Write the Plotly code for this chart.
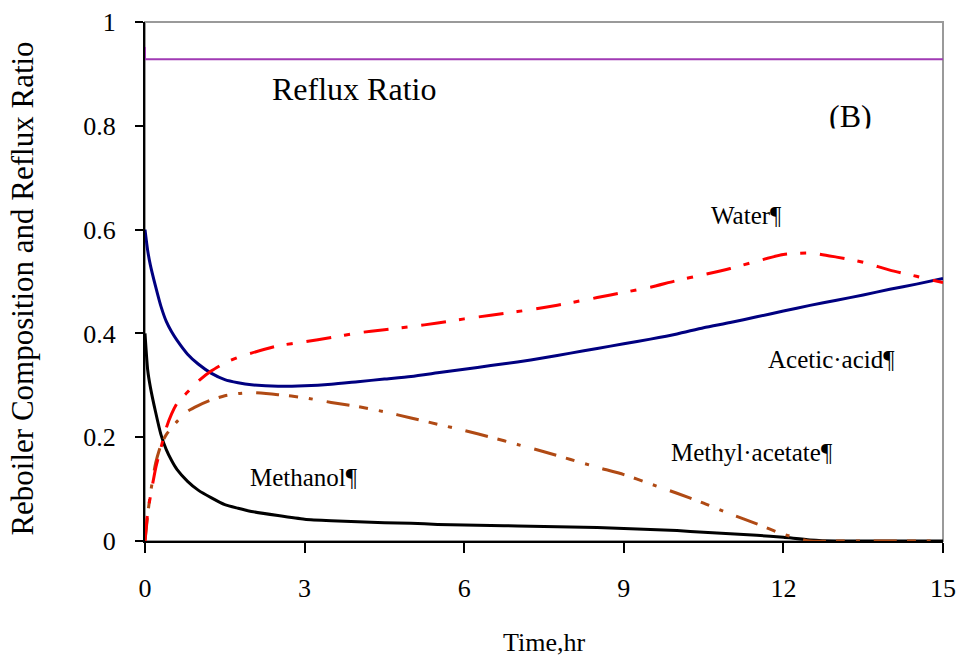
import plotly.graph_objects as go

# Batch reactive distillation: reboiler composition and reflux ratio vs time
time_hr = [0, 0.05, 0.1, 0.2, 0.3, 0.4, 0.5, 0.6, 0.8, 1.0, 1.25, 1.5, 1.75, 2.0,
           2.5, 3.0, 3.5, 4.0, 4.5, 5.0, 5.5, 6.0, 6.5, 7.0, 7.5, 8.0, 8.5, 9.0,
           9.5, 10.0, 10.5, 11.0, 11.5, 12.0, 12.5, 13.0, 13.5, 14.0, 14.5, 15.0]

acetic_acid = [0.600, 0.560, 0.532, 0.490, 0.452, 0.423, 0.403, 0.387, 0.360, 0.341,
               0.323, 0.311, 0.305, 0.301, 0.298, 0.299, 0.302, 0.307, 0.312, 0.317,
               0.324, 0.331, 0.338, 0.345, 0.353, 0.362, 0.371, 0.380, 0.389, 0.399,
               0.411, 0.421, 0.432, 0.443, 0.454, 0.464, 0.474, 0.485, 0.495, 0.506]

methanol = [0.400, 0.330, 0.297, 0.248, 0.205, 0.176, 0.155, 0.138, 0.115, 0.098,
            0.083, 0.070, 0.063, 0.057, 0.049, 0.042, 0.039, 0.037, 0.035, 0.034,
            0.032, 0.031, 0.030, 0.029, 0.028, 0.027, 0.026, 0.024, 0.022, 0.020,
            0.017, 0.014, 0.011, 0.007, 0.002, 0.0, 0.0, 0.0, 0.0, 0.0]

water = [0.000, 0.054, 0.085, 0.140, 0.180, 0.218, 0.245, 0.265, 0.287, 0.308,
         0.328, 0.343, 0.354, 0.362, 0.376, 0.384, 0.392, 0.401, 0.407, 0.413,
         0.420, 0.428, 0.435, 0.442, 0.450, 0.459, 0.469, 0.479, 0.489, 0.502,
         0.513, 0.525, 0.539, 0.552, 0.555, 0.547, 0.537, 0.522, 0.510, 0.498]

methyl_acetate = [0.000, 0.050, 0.090, 0.150, 0.185, 0.205, 0.218, 0.230, 0.250, 0.261,
                  0.272, 0.280, 0.284, 0.286, 0.282, 0.276, 0.267, 0.259, 0.249, 0.237,
                  0.225, 0.213, 0.200, 0.186, 0.172, 0.157, 0.142, 0.128, 0.110, 0.092,
                  0.073, 0.052, 0.033, 0.013, 0.0, 0.0, 0.0, 0.0, 0.0, 0.0]

reflux_time = [0, 0, 15]
reflux_ratio = [0.952, 0.928, 0.928]

x_ticks = [0, 3, 6, 9, 12, 15]
y_ticks = [0, 0.2, 0.4, 0.6, 0.8, 1.0]
y_tick_text = ["0", "0.2", "0.4", "0.6", "0.8", "1"]

SERIF = "Liberation Serif, Times New Roman, serif"

fig = go.Figure()

fig.add_trace(go.Scatter(x=reflux_time, y=reflux_ratio, mode="lines",
                         line=dict(color="#A03AB4", width=2)))
fig.add_trace(go.Scatter(x=time_hr, y=acetic_acid, mode="lines",
                         line=dict(color="#000080", width=3, shape="spline", smoothing=0.6)))
fig.add_trace(go.Scatter(x=time_hr, y=methanol, mode="lines",
                         line=dict(color="#000000", width=3, shape="spline", smoothing=0.6)))
fig.add_trace(go.Scatter(x=time_hr, y=methyl_acetate, mode="lines",
                         line=dict(color="#B04A14", width=3, shape="spline", smoothing=0.6,
                                   dash="23px,10px,9px,11px,4px,14px")))
fig.add_trace(go.Scatter(x=time_hr, y=water, mode="lines",
                         line=dict(color="#FF0000", width=3, shape="spline", smoothing=0.6,
                                   dash="25px,13px,6px,14px")))

# gray frame on top and right; left/bottom axes are drawn in black
fig.add_shape(type="rect", xref="x domain", yref="y domain", x0=0, x1=1, y0=0, y1=1,
              line=dict(color="#9a9a9a", width=2), layer="below")

labels = [
    dict(text="Water¶", x=11.3, y=0.628),
    dict(text="Acetic·acid¶", x=12.91, y=0.349),
    dict(text="Methyl·acetate¶", x=11.41, y=0.170),
    dict(text="Methanol¶", x=2.99, y=0.123),
]
annotations = [
    dict(text=l["text"], x=l["x"], y=l["y"], xref="x", yref="y", showarrow=False,
         font=dict(family=SERIF, size=25, color="black"))
    for l in labels
]
annotations += [
    dict(text="Reflux Ratio", x=3.93, y=0.871, xref="x", yref="y", showarrow=False,
         font=dict(family=SERIF, size=32, color="black")),
    dict(text="(B)", x=13.27, y=0.8195, xref="x", yref="y", showarrow=False,
         font=dict(family=SERIF, size=32, color="black")),
    # text frame clipping the lower part of the panel tag
    dict(text=" ", x=13.27, y=0.7775, xref="x", yref="y", showarrow=False,
         width=70, height=15, bgcolor="white", font=dict(size=10)),
    dict(text="Reboiler Composition and Reflux Ratio", x=-0.154, y=0.4865,
         xref="paper", yref="paper", xanchor="center", yanchor="middle",
         showarrow=False, textangle=-90,
         font=dict(family=SERIF, size=31, color="black")),
    dict(text="Time,hr", x=0.5, y=-0.1965, xref="paper", yref="paper",
         xanchor="center", yanchor="middle",
         showarrow=False, font=dict(family=SERIF, size=26, color="black")),
]

fig.update_layout(
    width=962, height=662,
    margin=dict(l=145, r=19, t=22, b=121, autoexpand=False),
    paper_bgcolor="white", plot_bgcolor="white",
    showlegend=False,
    annotations=annotations,
    xaxis=dict(range=[0, 15], tickvals=x_ticks, showgrid=False, zeroline=False,
               automargin=False,
               showline=True, linecolor="black", linewidth=2,
               ticks="outside", ticklen=10, tickwidth=2, tickcolor="black",
               ticklabelstandoff=13,
               tickfont=dict(family=SERIF, size=26, color="black")),
    yaxis=dict(range=[0, 1], tickvals=y_ticks, ticktext=y_tick_text,
               showgrid=False, zeroline=False, automargin=False,
               showline=True, linecolor="black", linewidth=2,
               ticks="outside", ticklen=8, tickwidth=2, tickcolor="black",
               ticklabelstandoff=14,
               tickfont=dict(family=SERIF, size=26, color="black")),
)

fig.write_html("out.html")
